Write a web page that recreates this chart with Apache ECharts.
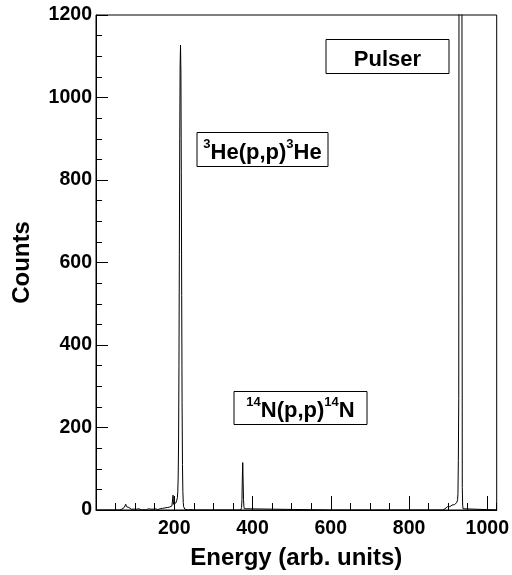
<!DOCTYPE html>
<html>
<head>
<meta charset="utf-8">
<script src="https://cdn.jsdelivr.net/npm/echarts@6/dist/echarts.min.js"></script>
<style>
  html, body { margin: 0; padding: 0; background: #fff; }
  #chart { width: 512px; height: 575px; }
</style>
</head>
<body>
<div id="chart"></div>
<script>
// Spectrum: channel (energy, arb. units) and counts
const channel = [
    0, 60, 64, 66, 68, 70, 72, 74, 76, 78, 80, 82, 84, 86, 88, 90,
    92, 95, 98, 101, 104, 107, 110, 113, 116, 119, 122, 125, 128, 131, 134, 137,
    140, 143, 146, 149, 152, 155, 158, 161, 164, 167, 170, 173, 176, 179, 182, 185,
    188, 190, 192, 194, 196, 197, 198, 200, 202, 204, 206, 208, 209, 210, 211, 212,
    213, 214, 215, 216, 217, 218, 219, 220, 221, 222, 223, 224, 225, 227, 230, 235,
    238, 240, 242, 250, 262, 264, 266, 300, 370, 371, 372, 373, 374, 375, 376, 377,
    378, 379, 380, 382, 600, 886, 888, 890, 892, 894, 896, 898, 900, 902, 904, 906,
    908, 910, 912, 914, 916, 918, 920, 922, 924, 925, 926, 927, 928, 929, 930, 931,
    932, 933, 934, 935, 936, 937, 938, 940, 1024
];
const counts = [
    0, 0, 1, 2, 4, 3, 6, 9, 14, 8, 10, 5, 6, 3, 4, 2,
    3, 1, 2, 0, 2, 1, 3, 1, 0, 2, 1, 2, 0, 1, 3, 1,
    2, 0, 2, 1, 3, 2, 1, 2, 3, 2, 4, 3, 5, 4, 6, 5,
    7, 9, 8, 10, 12, 36, 14, 13, 15, 17, 22, 30, 45, 80, 160, 350,
    620, 900, 1080, 1127, 1060, 820, 520, 260, 110, 45, 18, 8, 4, 2, 1, 0,
    2, 0, 1, 0, 0, 2, 0, 0, 0, 2, 6, 25, 80, 115, 70, 25,
    8, 3, 1, 0, 0, 0, 2, 4, 3, 6, 5, 8, 7, 9, 8, 11,
    10, 12, 11, 14, 13, 16, 14, 18, 25, 40, 120, 270, 1800, 5000, 9000, 10000,
    9000, 6000, 3000, 1500, 55, 12, 3, 0, 0
];
const xMajorTicks = [0, 200, 400, 600, 800, 1000];
const yMajorTicks = [0, 200, 400, 600, 800, 1000, 1200];

const FONT = '"Liberation Sans", Arial, Helvetica, sans-serif';

const chart = echarts.init(document.getElementById('chart'), null, { renderer: 'canvas' });

const tickLabel = { color: '#000', fontFamily: FONT, fontWeight: 'bold', fontSize: 19.5 };
const supStyle = { fontFamily: FONT, fontWeight: 'bold', fontSize: 13, lineHeight: 26, verticalAlign: 'top', fill: '#000' };
const mainStyle = { fontFamily: FONT, fontWeight: 'bold', fontSize: 22, lineHeight: 26, verticalAlign: 'bottom', fill: '#000' };

// boxed annotations
function labelBox(x, y, w, h, text) {
    return [
        { type: 'rect', shape: { x: x, y: y, width: w, height: h }, style: { fill: '#fff', stroke: '#000', lineWidth: 1 }, z: 10 },
        {
            type: 'text', x: x + w / 2, y: y + h / 2 + 1, z: 11,
            style: {
                text: text, align: 'center', verticalAlign: 'middle',
                font: 'bold 22px ' + FONT, fill: '#000',
                rich: { s: supStyle, m: mainStyle }
            }
        }
    ];
}

chart.setOption({
    animation: false,
    backgroundColor: '#fff',
    grid: { left: 96, right: 14, top: 15, bottom: 65, show: true, borderColor: '#000', borderWidth: 1, backgroundColor: 'transparent' },
    xAxis: [
        {
            type: 'value', position: 'bottom', min: 0, max: 1024, interval: 200,
            name: 'Energy (arb. units)', nameLocation: 'middle', nameGap: 36,
            nameTextStyle: { color: '#000', fontFamily: FONT, fontWeight: 'bold', fontSize: 24 },
            axisLine: { show: true, lineStyle: { color: '#000', width: 1 } },
            axisTick: { show: true, inside: true, length: 14, lineStyle: { color: '#000', width: 1 } },
            axisLabel: Object.assign({ margin: 9, showMinLabel: false, showMaxLabel: false,
                formatter: v => (xMajorTicks.indexOf(v) >= 0 ? String(v) : '') }, tickLabel),
            splitLine: { show: false }
        },
        {
            // minor ticks every 50
            type: 'value', position: 'bottom', min: 0, max: 1024, interval: 50,
            axisLine: { show: false },
            axisTick: { show: true, inside: true, length: 7, lineStyle: { color: '#000', width: 1 } },
            axisLabel: { show: false },
            splitLine: { show: false }
        }
    ],
    yAxis: {
        type: 'value', min: 0, max: 1200, interval: 200,
        name: 'Counts', nameLocation: 'middle', nameGap: 62, nameRotate: 90,
        nameTextStyle: { color: '#000', fontFamily: FONT, fontWeight: 'bold', fontSize: 24 },
        axisLine: { show: true, lineStyle: { color: '#000', width: 1 } },
        axisTick: { show: true, inside: true, length: 12, lineStyle: { color: '#000', width: 1 } },
        minorTick: { show: true, splitNumber: 4, length: 6, lineStyle: { color: '#000', width: 1 } },
        axisLabel: Object.assign({ margin: 4,
            formatter: v => (yMajorTicks.indexOf(v) >= 0 ? String(v) : '') }, tickLabel),
        splitLine: { show: false }
    },
    series: [{
        type: 'line',
        xAxisIndex: 0,
        data: channel.map((c, i) => [c, counts[i]]),
        showSymbol: false,
        symbol: 'none',
        clip: true,
        lineStyle: { color: '#000', width: 1 },
        z: 5
    }],
    graphic: [].concat(
        labelBox(326, 39.5, 123, 34, '{m|Pulser}'),
        labelBox(197, 132.5, 131, 34, '{s|3}{m|He(p,p)}{s|3}{m|He}'),
        labelBox(234, 391.5, 133, 33, '{s|14}{m|N(p,p)}{s|14}{m|N}')
    )
});
</script>
</body>
</html>
